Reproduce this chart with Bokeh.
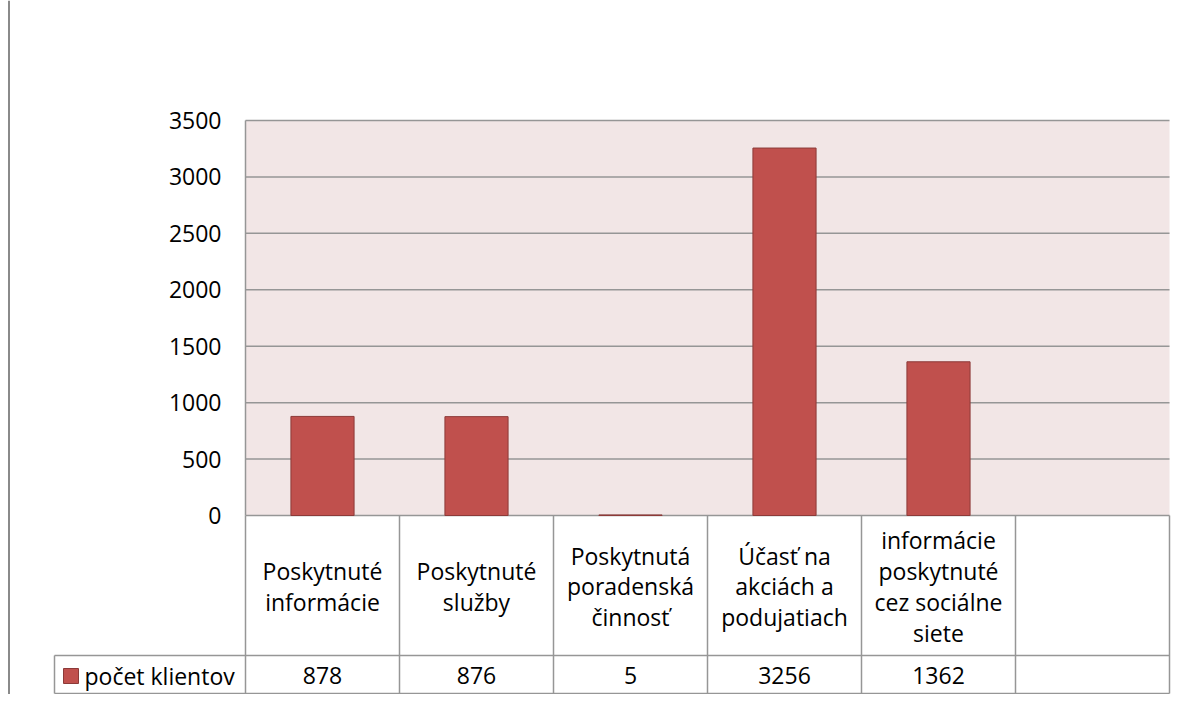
from bokeh.plotting import figure
from bokeh.models import Range1d
from bokeh.embed import file_html
from bokeh.resources import INLINE
from bokeh.core.properties import value

# ---- data ----
categories = ["Poskytnuté\ninformácie", "Poskytnuté\nslužby",
              "Poskytnutá\nporadenská\nčinnosť", "Účasť na\nakciách a\npodujatiach",
              "informácie\nposkytnuté\ncez sociálne\nsiete", ""]
values = [878, 876, 5, 3256, 1362]
series_name = "počet klientov"
yticks = [0, 500, 1000, 1500, 2000, 2500, 3000, 3500]
ymax = 3500

# ---- layout (picture pixels) ----
W, H = 1178, 694
OX, OY = 0, 0
PL, PR, PT, PB = 245, 1169, 120, 515
ncat = len(categories)
SX = (PR - PL) / ncat
SY = (PB - PT) / ymax

def X(px):
    return (px - PL) / SX

def Y(py):
    return (PB - py) / SY

FONT = value("Open Sans")
FS = "23px"
LH = 0.96
GRID = "#969696"

p = figure(width=W, height=H, output_backend="svg", toolbar_location=None,
           x_range=Range1d(X(OX), X(OX + W)), y_range=Range1d(Y(OY + H), Y(OY)),
           min_border=0)
p.axis.visible = False
p.xgrid.visible = False
p.ygrid.visible = False
p.outline_line_color = None
p.background_fill_color = "white"
p.border_fill_color = "white"

# left page line
p.segment(x0=[X(8.5)], y0=[Y(OY)], x1=[X(8.5)], y1=[Y(OY + H)],
          line_color="#8a8a8a", line_width=2)

# plot area background
p.quad(left=[0], right=[ncat], bottom=[0], top=[ymax],
       fill_color="#F2E6E6", line_color=None)

# gridlines
p.segment(x0=[0] * len(yticks), y0=yticks, x1=[ncat] * len(yticks), y1=yticks,
          line_color=GRID, line_width=1.5)
# plot left border
p.segment(x0=[0], y0=[0], x1=[0], y1=[ymax], line_color=GRID, line_width=1.5)

# bars
xs = [i + 0.5 for i in range(len(values))]
p.vbar(x=xs, width=0.41, bottom=0, top=values,
       fill_color="#C0504D", line_color="#8C3A38", line_width=1)

# y tick labels
p.text(x=[X(221)] * len(yticks), y=yticks, text=[str(t) for t in yticks],
       text_align="right", text_baseline="middle", text_font=FONT,
       text_font_size=FS, text_color="#000000")

# ---- data table ----
ROW1, ROW2 = 655, 693
LEG_L = 54
# horizontal lines
p.segment(x0=[X(LEG_L), X(LEG_L)], y0=[Y(ROW1), Y(ROW2)],
          x1=[ncat, ncat], y1=[Y(ROW1), Y(ROW2)], line_color=GRID, line_width=1.5)
# vertical lines
vx = list(range(ncat + 1))
p.segment(x0=vx, y0=[0] * len(vx), x1=vx, y1=[Y(ROW2)] * len(vx),
          line_color=GRID, line_width=1.5)
p.segment(x0=[X(LEG_L)], y0=[Y(ROW1)], x1=[X(LEG_L)], y1=[Y(ROW2)],
          line_color=GRID, line_width=1.5)

cx = [i + 0.5 for i in range(ncat)]
p.text(x=cx, y=[Y(586)] * ncat, text=categories, text_align="center",
       text_baseline="middle", text_font=FONT, text_font_size=FS,
       text_line_height=LH, text_color="#000000")
p.text(x=xs, y=[Y(675)] * len(values), text=[str(v) for v in values],
       text_align="center", text_baseline="middle", text_font=FONT,
       text_font_size=FS, text_color="#000000")

# legend key
p.quad(left=[X(63)], right=[X(78)], bottom=[Y(683)], top=[Y(668)],
       fill_color="#C0504D", line_color="#8C3A38", line_width=1)
p.text(x=[X(84)], y=[Y(675)], text=[series_name], text_align="left",
       text_baseline="middle", text_font=FONT, text_font_size=FS,
       text_color="#000000")

open("out.html", "w").write(file_html(p, INLINE))
